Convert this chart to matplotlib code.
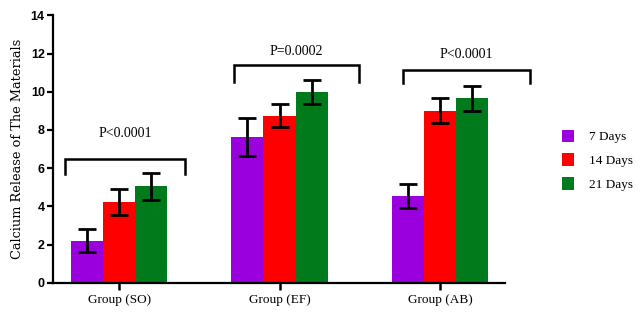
import matplotlib
matplotlib.use("Agg")
import matplotlib.pyplot as plt
import numpy as np
from matplotlib.patches import Patch

groups = ["Group (SO)", "Group (EF)", "Group (AB)"]
series = ["7 Days", "14 Days", "21 Days"]
colors = ["#9900dd", "#ff0000", "#007a1a"]
values = {
    "7 Days": [2.2, 7.65, 4.55],
    "14 Days": [4.25, 8.75, 9.0],
    "21 Days": [5.05, 10.0, 9.65],
}
errors = {
    "7 Days": [0.6, 1.0, 0.62],
    "14 Days": [0.68, 0.6, 0.65],
    "21 Days": [0.72, 0.63, 0.65],
}
p_labels = ["P<0.0001", "P=0.0002", "P<0.0001"]
p_label_y = [7.8, 12.13, 11.95]
bracket_left = [-0.336, 0.717, 1.770]
bracket_right = [0.411, 1.496, 2.561]
bracket_top = [6.5, 11.38, 11.15]
bracket_leg = [5.7, 10.5, 10.45]

fig = plt.figure(figsize=(6.4, 3.14), dpi=100)
ax = fig.add_axes([0.083, 0.0997, 0.706, 0.8513])

x = np.arange(len(groups))
w = 0.2
for i, s in enumerate(series):
    ax.bar(x + (i - 1) * w, values[s], width=w, color=colors[i], edgecolor="none")
    ax.errorbar(x + (i - 1) * w, values[s], yerr=errors[s], fmt="none",
                ecolor="black", elinewidth=2.0, capsize=6.5, capthick=2.0)

serif = ["Liberation Serif", "DejaVu Serif"]
for gi in range(len(groups)):
    left = bracket_left[gi]
    right = bracket_right[gi]
    ax.plot([left, left, right, right],
            [bracket_leg[gi], bracket_top[gi], bracket_top[gi], bracket_leg[gi]],
            color="black", lw=1.8, solid_joinstyle="miter", clip_on=False)
    ax.text((left + right) / 2, p_label_y[gi], p_labels[gi],
            ha="center", va="center", fontsize=10, family=serif, clip_on=False)

ax.set_xlim(-0.411, 2.405)
ax.set_ylim(0, 14)
ax.set_yticks(range(0, 15, 2))
ax.set_yticklabels([str(v) for v in range(0, 15, 2)], fontsize=9,
                   fontweight="bold", family=["Liberation Sans", "DejaVu Sans"])
ax.set_xticks(x)
ax.set_xticklabels(groups, fontsize=9.5, family=serif)
for sp in ["top", "right"]:
    ax.spines[sp].set_visible(False)
for sp in ["left", "bottom"]:
    ax.spines[sp].set_linewidth(1.6)
ax.tick_params(axis="x", length=5, width=1.8, pad=3)
ax.tick_params(axis="y", length=4, width=1.6, pad=2)
ax.set_ylabel("Calcium Release of The Materials", fontsize=9.3,
              family=["DejaVu Serif"], labelpad=5)

handles = [Patch(facecolor=c, edgecolor="none") for c in colors]
leg = fig.legend(handles, series, loc="center left", bbox_to_anchor=(0.86, 0.49),
                 frameon=False, prop={"family": serif, "size": 9.5},
                 handlelength=0.9, handleheight=1.1, handletextpad=1.1,
                 labelspacing=0.75)

fig.savefig("out.png", dpi=100)
